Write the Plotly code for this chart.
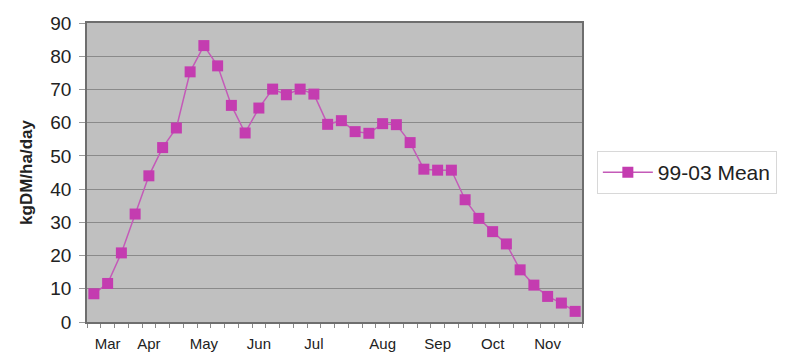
import plotly.graph_objects as go

# Weekly mean growth rate, 1999-2003
week = list(range(1, 37))
growth = [8.5, 11.6, 20.8, 32.5, 44.0, 52.5, 58.4, 75.3, 83.2, 77.1, 65.2, 56.9,
          64.4, 70.1, 68.4, 70.1, 68.6, 59.5, 60.6, 57.3, 56.8, 59.7, 59.4, 54.0,
          46.0, 45.7, 45.7, 36.8, 31.2, 27.2, 23.5, 15.7, 11.1, 7.7, 5.7, 3.2]

# Month labels sit under specific weeks
month_weeks = [2, 5, 9, 13, 17, 22, 26, 30, 34]
month_names = ["Mar", "Apr", "May", "Jun", "Jul", "Aug", "Sep", "Oct", "Nov"]

series_name = "99-03 Mean"

fig = go.Figure()
fig.add_trace(go.Scatter(
    x=week, y=growth, mode="lines+markers", name=series_name,
    line=dict(color="#c45ab8", width=1.5),
    marker=dict(symbol="square", size=11, color="#c43cb0"),
))

fig.update_layout(
    width=791, height=356,
    margin=dict(l=87, r=209, t=23, b=34),
    paper_bgcolor="white",
    plot_bgcolor="#c0c0c0",
    font=dict(family="Liberation Sans, Arial, sans-serif", color="#222"),
    showlegend=True,
    legend=dict(
        x=1.03, y=0.5, xanchor="left", yanchor="middle",
        bgcolor="white", bordercolor="#d8d8d8", borderwidth=1,
        font=dict(size=21, color="#222"),
        itemwidth=50,
    ),
)

fig.update_xaxes(
    range=[0.5, 36.5], automargin=False,
    tickmode="array", tickvals=month_weeks, ticktext=month_names,
    ticks="", tickfont=dict(size=15, color="#222"),
    ticklabelstandoff=7,
    showgrid=False, zeroline=False,
    showline=True, linecolor="#6e6e6e", linewidth=1.5, mirror=True,
    minor=dict(tickmode="array", tickvals=[w + 0.5 for w in range(0, 37)],
               ticks="outside", ticklen=4, tickcolor="#888", showgrid=False),
)

fig.update_yaxes(
    range=[0, 90], dtick=10, automargin=False,
    ticks="outside", ticklen=6, tickcolor="#999",
    ticklabelstandoff=4,
    tickfont=dict(size=19, color="#222"),
    showgrid=True, gridcolor="#8a8a8a", gridwidth=1,
    zeroline=False,
    showline=True, linecolor="#6e6e6e", linewidth=1.5, mirror=True,
    title=dict(text="<b>kgDM/ha/day</b>", font=dict(size=17, color="#222"), standoff=13),
)

fig.write_html("out.html")
